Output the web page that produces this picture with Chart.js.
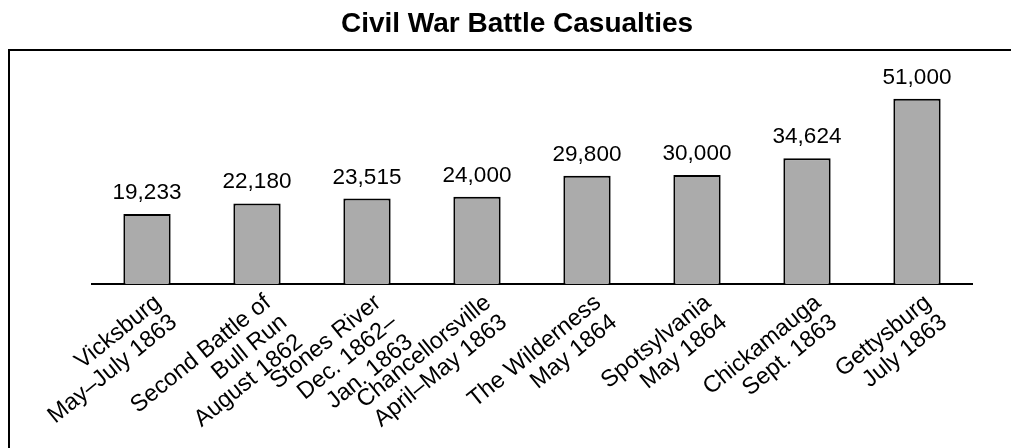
<!DOCTYPE html>
<html>
<head>
<meta charset="utf-8">
<title>Civil War Battle Casualties</title>
<script src="https://cdn.jsdelivr.net/npm/chart.js@4/dist/chart.umd.min.js"></script>
<style>
    html, body { margin: 0; padding: 0; background: #fff; }
    #wrap { width: 1011px; height: 448px; }
</style>
</head>
<body>
<div id="wrap"><canvas id="casualtyChart" width="1011" height="448"></canvas></div>
<script>
// Chart data
const chartTitle = "Civil War Battle Casualties";
const battles = [
    ["Vicksburg", "May–July 1863"],
    ["Second Battle of", "Bull Run", "August 1862"],
    ["Stones River", "Dec. 1862–", "Jan. 1863"],
    ["Chancellorsville", "April–May 1863"],
    ["The Wilderness", "May 1864"],
    ["Spotsylvania", "May 1864"],
    ["Chickamauga", "Sept. 1863"],
    ["Gettysburg", "July 1863"],
];
const casualties = [19233, 22180, 23515, 24000, 29800, 30000, 34624, 51000];

const FONT = "'Liberation Sans', Arial, Helvetica, sans-serif";
const ctx = document.getElementById("casualtyChart").getContext("2d");

// Frame, title and value labels
const decorations = {
    id: "decorations",
    beforeDraw(chart) {
        const c = chart.ctx;
        c.save();
        c.strokeStyle = "#000";
        c.lineWidth = 2;
        c.strokeRect(9, 50, 1100, 500);
        c.fillStyle = "#000";
        c.font = "bold 28px " + FONT;
        c.textAlign = "center";
        c.textBaseline = "alphabetic";
        c.fillText(chartTitle, 517, 32);
        c.restore();
    },
    afterDatasetsDraw(chart) {
        const c = chart.ctx;
        const meta = chart.getDatasetMeta(0);
        c.save();
        c.fillStyle = "#000";
        c.font = "22.5px " + FONT;
        c.textAlign = "center";
        c.textBaseline = "alphabetic";
        meta.data.forEach((bar, i) => {
            c.fillText(casualties[i].toLocaleString("en-US"), bar.x, bar.y - 15);
        });
        c.restore();
    }
};

new Chart(ctx, {
    type: "bar",
    data: {
        labels: battles,
        datasets: [{
            data: casualties,
            backgroundColor: "#ababab",
            borderColor: "#000",
            borderWidth: 2,
            barPercentage: 0.43,
            categoryPercentage: 1,
        }]
    },
    options: {
        responsive: false,
        animation: false,
        devicePixelRatio: 1,
        layout: {
            padding: { left: 92, right: 39, top: 66, bottom: 0 }
        },
        plugins: {
            legend: { display: false },
            title: { display: false },
            tooltip: { enabled: false }
        },
        scales: {
            x: {
                grid: { display: false, drawTicks: false },
                border: { display: true, color: "#000", width: 2 },
                ticks: {
                    autoSkip: false,
                    minRotation: 39,
                    maxRotation: 39,
                    padding: 6,
                    labelOffset: 11,
                    color: "#000",
                    font: { family: FONT, size: 23.5, lineHeight: 1.08 }
                },
                afterFit(scale) {
                    scale.height = 164;
                    scale.paddingLeft = 0;
                    scale.paddingRight = 0;
                }
            },
            y: {
                display: false,
                min: 0,
                max: 60000
            }
        }
    },
    plugins: [decorations]
});
</script>
</body>
</html>
